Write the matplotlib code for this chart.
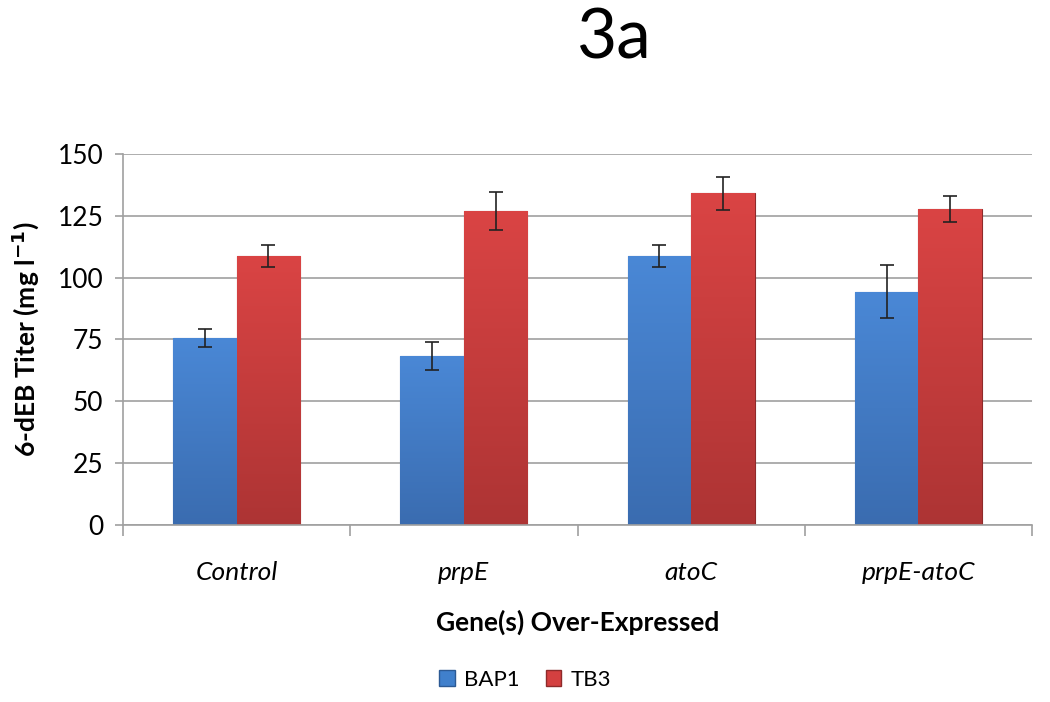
import numpy as np
import matplotlib.pyplot as plt
from matplotlib.colors import LinearSegmentedColormap
from matplotlib.patches import Patch

plt.rcParams['font.family'] = ['Lato', 'DejaVu Sans']

genes = ['Control', 'prpE', 'atoC', 'prpE-atoC']
bap1 = [75.6, 68.3, 108.8, 94.3]
bap1_err = [3.6, 5.5, 4.5, 10.6]
tb3 = [108.8, 127.0, 134.1, 127.8]
tb3_err = [4.5, 7.7, 6.7, 5.3]

fig = plt.figure(figsize=(10.5, 7.02), dpi=100)
ax = fig.add_axes([0.117, 0.252, 0.866, 0.529])

x = np.arange(len(genes))
w = 0.28

blue_cmap = LinearSegmentedColormap.from_list('b', ['#3a6cb0', '#4a88d6'])
red_cmap = LinearSegmentedColormap.from_list('r', ['#ad3434', '#da4444'])

b1 = ax.bar(x - w / 2, bap1, w, color='#4080cc', edgecolor='#2c5a94', linewidth=0.8, zorder=2, label='BAP1')
b2 = ax.bar(x + w / 2, tb3, w, color='#d44040', edgecolor='#8e2a2a', linewidth=0.8, zorder=2, label='TB3')

# vertical gradient inside each bar
grad = np.linspace(0, 1, 256).reshape(-1, 1)
for bars, cmap in [(b1, blue_cmap), (b2, red_cmap)]:
    for bar in bars:
        x0 = bar.get_x()
        h = bar.get_height()
        im = ax.imshow(grad, cmap=cmap, origin='lower', aspect='auto',
                       extent=[x0, x0 + bar.get_width(), 0, h], zorder=2.1)
        im.set_clip_path(bar)

ax.errorbar(x - w / 2, bap1, yerr=bap1_err, fmt='none', ecolor='#222222', elinewidth=1.2, capsize=5, capthick=1.2, zorder=3)
ax.errorbar(x + w / 2, tb3, yerr=tb3_err, fmt='none', ecolor='#222222', elinewidth=1.2, capsize=5, capthick=1.2, zorder=3)

ax.set_xlim(-0.5, len(genes) - 0.5)
ax.set_ylim(0, 150)
ax.set_yticks(range(0, 151, 25))
ax.yaxis.grid(True, color='#a0a0a0', linewidth=1.2, zorder=0)
ax.set_axisbelow(True)

ax.set_xticks(np.arange(-0.5, len(genes), 1))
ax.set_xticklabels([])
ax.set_xticks(x, minor=True)
ax.set_xticklabels(genes, minor=True, fontsize=19, style='italic')
ax.tick_params(axis='x', which='major', length=8, color='#a0a0a0', width=1.2)
ax.tick_params(axis='x', which='minor', length=0, pad=26)
ax.tick_params(axis='y', length=6, color='#a0a0a0', width=1.2, labelsize=19, pad=8)

for s in ['top', 'right']:
    ax.spines[s].set_visible(False)
for s in ['left', 'bottom']:
    ax.spines[s].set_color('#a0a0a0')
    ax.spines[s].set_linewidth(1.2)

ax.set_xlabel('Gene(s) Over-Expressed', fontsize=19, fontweight='bold', labelpad=18)
ax.set_ylabel('6-dEB Titer (mg l$^{\\mathbf{-1}}$)', fontsize=19, fontweight='bold', labelpad=12)

fig.text(0.585, 0.945, '3a', fontsize=50, ha='center', va='center')

handles = [Patch(facecolor='#4080cc', edgecolor='#2c5a94'), Patch(facecolor='#d44040', edgecolor='#8e2a2a')]
fig.legend(handles, ['BAP1', 'TB3'], loc='center', bbox_to_anchor=(0.5, 0.032), ncol=2,
           frameon=False, fontsize=16, handlelength=0.7, handleheight=0.7, columnspacing=1.2, handletextpad=0.4)

fig.savefig('out.png', dpi=100)
